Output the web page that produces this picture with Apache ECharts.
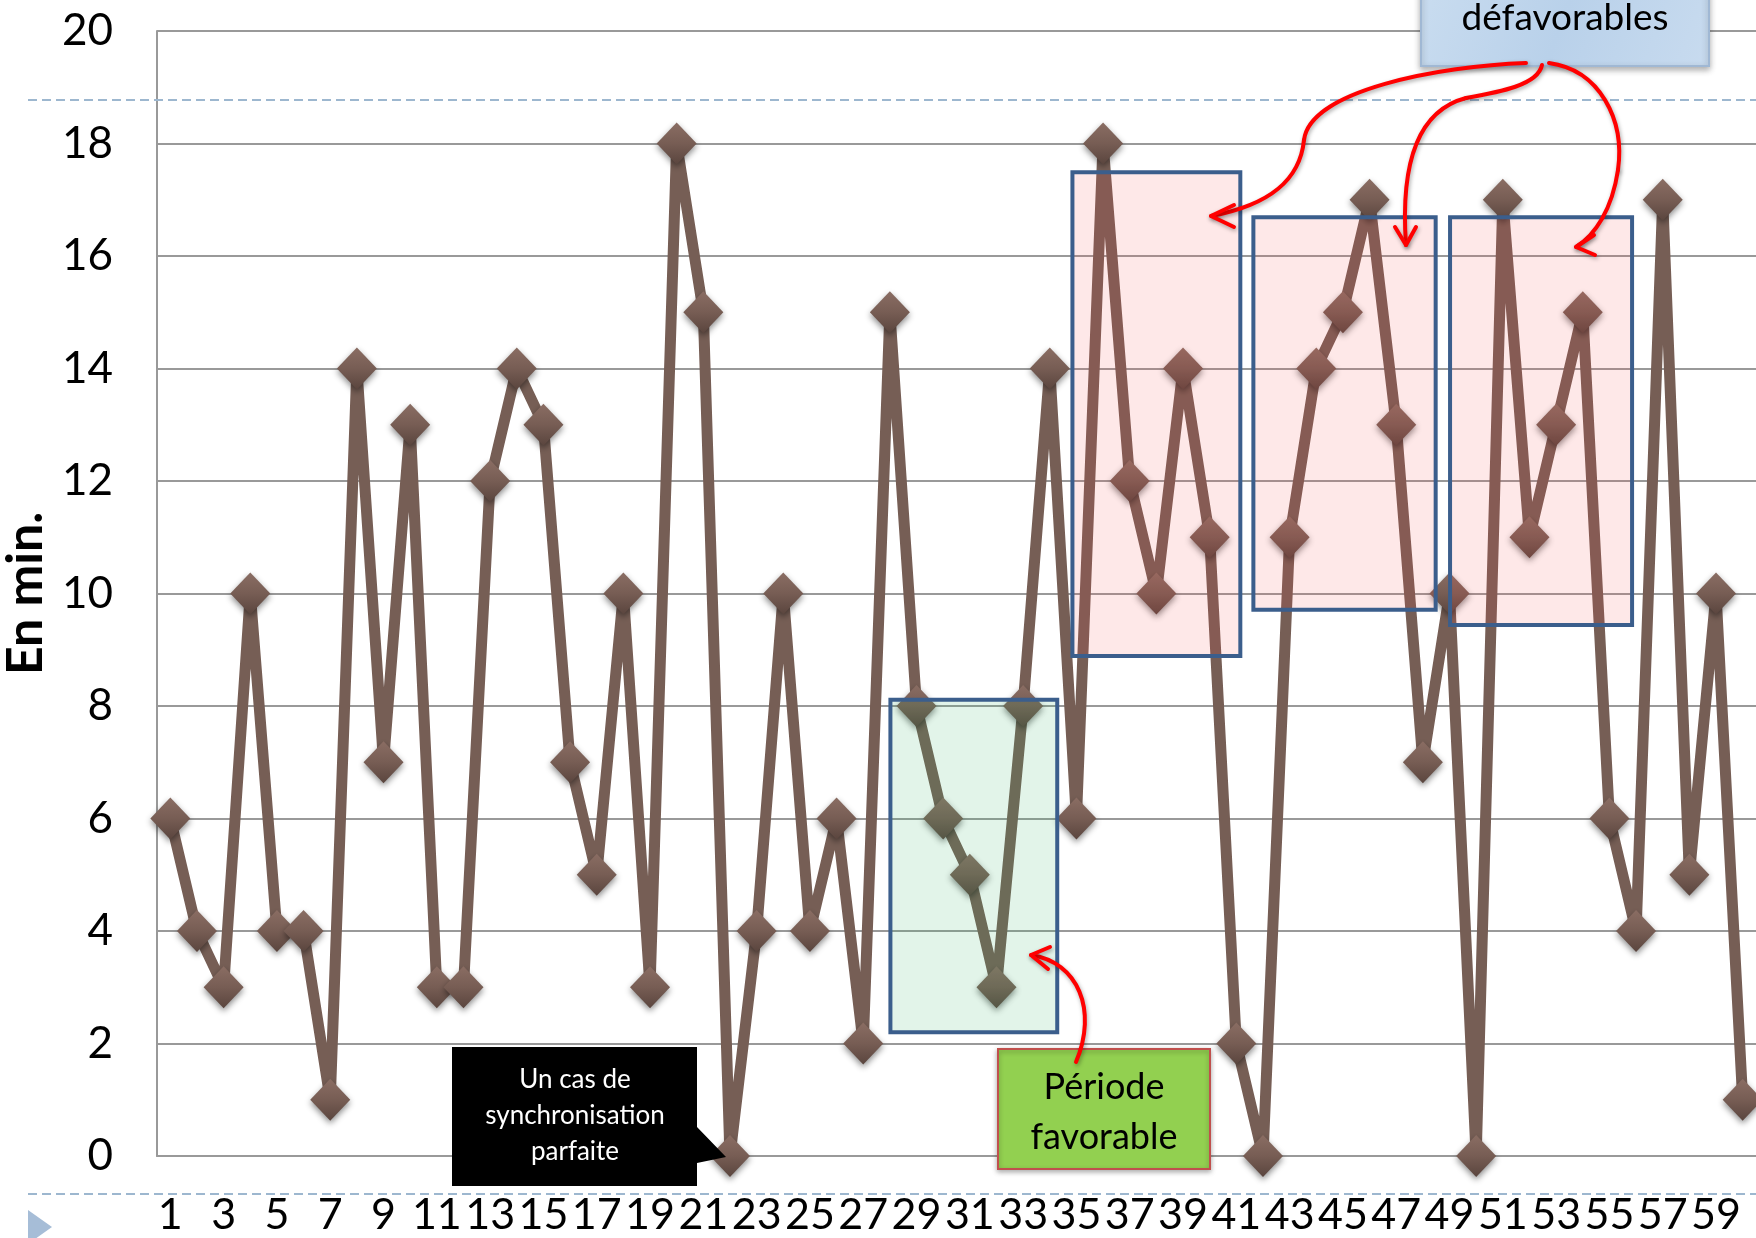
<!DOCTYPE html>
<html>
<head>
<meta charset="utf-8">
<script src="https://cdn.jsdelivr.net/npm/echarts@6/dist/echarts.min.js"></script>
<style>
html,body{margin:0;padding:0;background:#ffffff;}
#chart{width:1756px;height:1238px;}
</style>
</head>
<body>
<div id="chart"></div>
<script>
// ---- data ----
const categories = ['1','2','3','4','5','6','7','8','9','10','11','12','13','14','15','16','17','18','19','20',
  '21','22','23','24','25','26','27','28','29','30','31','32','33','34','35','36','37','38','39','40',
  '41','42','43','44','45','46','47','48','49','50','51','52','53','54','55','56','57','58','59','60'];
const waitMinutes = [6,4,3,10,4,4,1,14,7,13,3,3,12,14,13,7,5,10,3,18,
  15,0,4,10,4,6,2,15,8,6,5,3,8,14,6,18,12,10,14,11,
  2,0,11,14,15,17,13,7,10,0,17,11,13,15,6,4,17,5,10,1];
const yMin = 0, yMax = 20, yInterval = 2;
// annotation boxes in data units: [xStart, yTop, xEnd, yBottom]
const favorableBoxes = [[28.02, 8.11, 34.28, 2.20]];
const unfavorableBoxes = [[34.85, 17.49, 41.15, 8.89], [41.64, 16.69, 48.48, 9.71], [49.02, 16.69, 55.85, 9.44]];
const yAxisName = 'En min.';
const noteSync = 'Un cas de\nsynchronisation\nparfaite';
const noteFavorable = 'Période\nfavorable';
const noteUnfavorable = 'défavorables';

// ---- chart ----
const chart = echarts.init(document.getElementById('chart'), null, {renderer: 'canvas'});
const FONT = 'Lato';
const red = '#FF0000';
const arrowStyle = {stroke: red, lineWidth: 4, fill: null, lineCap: 'round', lineJoin: 'round',
  shadowBlur: 4, shadowColor: 'rgba(0,0,0,0.35)', shadowOffsetX: 1, shadowOffsetY: 2};

function curve(x1, y1, cpx1, cpy1, cpx2, cpy2, x2, y2) {
  return {type: 'bezierCurve', z: 22, shape: {x1: x1, y1: y1, cpx1: cpx1, cpy1: cpy1, cpx2: cpx2, cpy2: cpy2, x2: x2, y2: y2}, style: arrowStyle};
}
function head(points) {
  return {type: 'polyline', z: 22, shape: {points: points}, style: arrowStyle};
}

function boxRender(fill, stroke) {
  return function (params, api) {
    const p0 = api.coord([api.value(0), api.value(1)]);
    const p1 = api.coord([api.value(2), api.value(3)]);
    return {
      type: 'rect',
      shape: {x: p0[0], y: p0[1], width: p1[0] - p0[0], height: p1[1] - p0[1]},
      style: {fill: fill, stroke: stroke, lineWidth: 4}
    };
  };
}

const option = {
  animation: false,
  backgroundColor: '#ffffff',
  grid: {left: 157, right: 0, top: 31, bottom: 82, containLabel: false, outerBoundsMode: 'none'},
  xAxis: [{
    type: 'category',
    data: categories,
    boundaryGap: true,
    axisLine: {show: true, lineStyle: {color: '#999999', width: 2}},
    axisTick: {show: false},
    axisLabel: {interval: 1, color: '#000', fontFamily: FONT, fontSize: 43, margin: 38}
  }, {
    type: 'value', min: 0.5, max: 60.5, show: false
  }],
  yAxis: {
    type: 'value',
    min: yMin, max: yMax, interval: yInterval,
    name: yAxisName,
    nameLocation: 'middle',
    nameGap: 97,
    nameRotate: 90,
    nameTextStyle: {color: '#000', fontFamily: FONT, fontWeight: 'bold', fontSize: 50},
    axisLine: {show: true, lineStyle: {color: '#999999', width: 2}},
    axisTick: {show: false},
    axisLabel: {color: '#000', fontFamily: FONT, fontSize: 44, margin: 44},
    splitLine: {show: true, lineStyle: {color: '#999999', width: 2}}
  },
  series: [{
    type: 'line',
    data: waitMinutes,
    z: 3,
    symbol: 'diamond',
    symbolSize: [40, 42],
    showAllSymbol: true,
    lineStyle: {color: '#765E55', width: 11},
    itemStyle: {
      color: {type: 'linear', x: 0, y: 0, x2: 0, y2: 1, colorStops: [
        {offset: 0, color: '#8A6D63'}, {offset: 0.5, color: '#775D54'}, {offset: 1, color: '#5A453E'}]},
      shadowBlur: 6, shadowColor: 'rgba(0,0,0,0.45)', shadowOffsetY: 3
    }
  }, {
    type: 'custom',
    xAxisIndex: 1,
    z: 5,
    clip: false,
    data: favorableBoxes,
    encode: {x: [0, 2], y: [1, 3]},
    renderItem: boxRender('rgba(60,180,110,0.15)', '#3B5E8C')
  }, {
    type: 'custom',
    xAxisIndex: 1,
    z: 5,
    clip: false,
    data: unfavorableBoxes,
    encode: {x: [0, 2], y: [1, 3]},
    renderItem: boxRender('rgba(245,80,80,0.13)', '#3B5E8C')
  }],
  graphic: [
    // slide decorations
    {type: 'line', z: 1, shape: {x1: 28, y1: 100, x2: 1756, y2: 100}, style: {stroke: '#9DB7CF', lineWidth: 2, lineDash: [9, 5]}},
    {type: 'line', z: 1, shape: {x1: 28, y1: 1194, x2: 1756, y2: 1194}, style: {stroke: '#9DB7CF', lineWidth: 2, lineDash: [9, 5]}},
    {type: 'polygon', z: 1, shape: {points: [[28, 1210], [52, 1227], [28, 1244]]}, style: {fill: '#A6BDD7'}},
    // black callout
    {type: 'polygon', z: 20, shape: {points: [[452, 1047], [697, 1047], [697, 1127], [726, 1157], [697, 1163], [697, 1186], [452, 1186]]},
      style: {fill: '#000000'}},
    {type: 'text', z: 21, x: 575, y: 1116, style: {text: noteSync, fill: '#ffffff', font: '26px ' + FONT, align: 'center', verticalAlign: 'middle', lineHeight: 36}},
    // green label
    {type: 'rect', z: 20, shape: {x: 998, y: 1049, width: 212, height: 120},
      style: {fill: '#92D050', stroke: '#C0504D', lineWidth: 2, shadowBlur: 5, shadowColor: 'rgba(0,0,0,0.3)', shadowOffsetY: 2}},
    {type: 'text', z: 21, x: 1104, y: 1112, style: {text: noteFavorable, fill: '#000', font: '36px ' + FONT, align: 'center', verticalAlign: 'middle', lineHeight: 50}},
    curve(1076, 1062, 1098, 1010, 1078, 962, 1031, 955),
    head([[1050, 947], [1031, 955], [1048, 969]]),
    // blue label at top
    {type: 'rect', z: 20, shape: {x: 1421, y: -40, width: 288, height: 106},
      style: {fill: {type: 'linear', x: 0, y: 0, x2: 1, y2: 1, colorStops: [{offset: 0, color: '#CADDF0'}, {offset: 0.5, color: '#B9D1EA'}, {offset: 1, color: '#C8DBEF'}]},
        stroke: '#A0B8D4', lineWidth: 2, shadowBlur: 6, shadowColor: 'rgba(0,0,0,0.3)', shadowOffsetY: 3}},
    {type: 'text', z: 21, x: 1565, y: 18, style: {text: noteUnfavorable, fill: '#000', font: '37px ' + FONT, align: 'center', verticalAlign: 'middle'}},
    curve(1526, 63, 1440, 66, 1310, 90, 1304, 140),
    curve(1304, 140, 1300, 180, 1270, 205, 1211, 216),
    head([[1234, 205], [1211, 216], [1234, 227]]),
    curve(1542, 65, 1538, 85, 1500, 92, 1466, 98),
    curve(1466, 98, 1420, 110, 1400, 160, 1406, 245),
    head([[1395, 227], [1406, 245], [1416, 227]]),
    curve(1549, 63, 1600, 70, 1625, 120, 1618, 170),
    curve(1618, 170, 1612, 210, 1595, 235, 1576, 247),
    head([[1594, 235], [1576, 247], [1595, 255]])
  ]
};
chart.setOption(option);
</script>
</body>
</html>
